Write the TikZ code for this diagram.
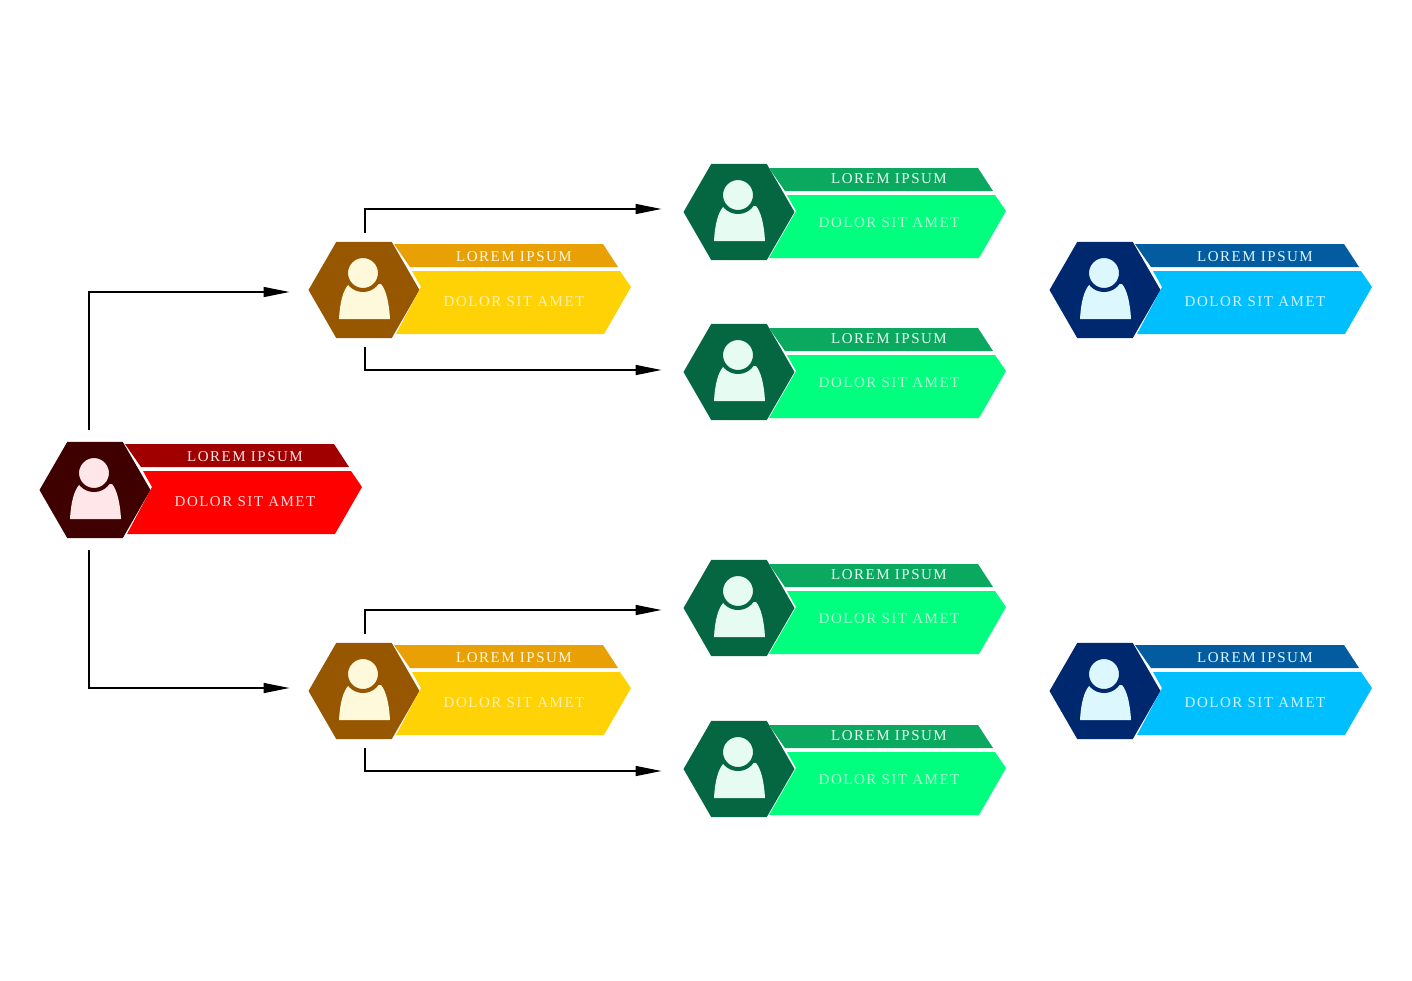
\documentclass[tikz,border=0pt]{standalone}
\usepackage{fontspec}
\setmainfont{Liberation Serif}
\newfontfamily\boxfont[LetterSpace=10]{Liberation Serif}
\usetikzlibrary{arrows.meta,shapes.geometric}
\tikzset{
  hexa/.style={regular polygon,regular polygon sides=6,shape border rotate=0,
    minimum size=111pt,inner sep=0pt,outer sep=0pt},
  head/.style={circle,minimum size=34pt,inner sep=0pt,line width=4pt},
  toptext/.style={font=\boxfont\fontsize{15}{18}\selectfont,inner sep=0pt},
  link/.style={line width=1.5pt,-{Triangle[length=26pt,width=10pt]}}
}
% name, x, y, hexagon, upper band, lower band, pale, lower text, band offset
\newcommand{\staffbox}[9]{
  \begin{scope}[shift={(#2,#3)}]
    \node[hexa,fill=#4] (hex#1) at (0,0) {};
    \fill[#7] (1,29) -- (-25,29) .. controls (-24,12) and (-21,0) .. (-15,-6)
      -- (17,-6) .. controls (22,0) and (25,12) .. (26,29) -- cycle;
    \node[head,fill=#7,draw=#4] (head#1) at (-1,-17) {};
    \fill[#5] (30,-46+#9) -- (239,-46+#9) -- (254,-23+#9) -- (46,-23+#9) -- cycle;
    \fill[#6] (48,-19+#9) -- (256,-19+#9) -- (267,-3+#9) -- (240,44+#9)
      -- (32-#9,44+#9) -- (57,-3+#9) -- cycle;
    \node[toptext,text=#7] (top#1) at (150,-33) {LOREM IPSUM};
    \node[toptext,text=#8] (low#1) at (150,12-#9/2) {DOLOR SIT AMET};
  \end{scope}
}
\definecolor{redhex}{HTML}{3F0000}
\definecolor{redtop}{HTML}{A00000}
\definecolor{redlow}{HTML}{FF0000}
\definecolor{redpale}{HTML}{FFE6E8}
\definecolor{redtext}{HTML}{FFDCDC}
\definecolor{amberhex}{HTML}{975700}
\definecolor{ambertop}{HTML}{E8A005}
\definecolor{amberlow}{HTML}{FFD205}
\definecolor{amberpale}{HTML}{FFF9DC}
\definecolor{ambertext}{HTML}{FFF0B0}
\definecolor{greenhex}{HTML}{056642}
\definecolor{greentop}{HTML}{0BA860}
\definecolor{greenlow}{HTML}{00FF7F}
\definecolor{greenpale}{HTML}{E6FBF2}
\definecolor{greentext}{HTML}{B4F8D4}
\definecolor{bluehex}{HTML}{00286E}
\definecolor{bluetop}{HTML}{045CA0}
\definecolor{bluelow}{HTML}{00BFFF}
\definecolor{bluepale}{HTML}{DDF7FF}
\definecolor{bluetext}{HTML}{D0F2FF}
\begin{document}
\begin{tikzpicture}[x=1pt,y=-1pt]
  \useasboundingbox (0,0) rectangle (1412,980);
  \staffbox{root}{95}{490}{redhex}{redtop}{redlow}{redpale}{redtext}{0}
  \staffbox{ambera}{364}{290}{amberhex}{ambertop}{amberlow}{amberpale}{ambertext}{0}
  \staffbox{amberb}{364}{691}{amberhex}{ambertop}{amberlow}{amberpale}{ambertext}{0}
  \staffbox{greena}{739}{212}{greenhex}{greentop}{greenlow}{greenpale}{greentext}{2}
  \staffbox{greenb}{739}{372}{greenhex}{greentop}{greenlow}{greenpale}{greentext}{2}
  \staffbox{greenc}{739}{608}{greenhex}{greentop}{greenlow}{greenpale}{greentext}{2}
  \staffbox{greend}{739}{769}{greenhex}{greentop}{greenlow}{greenpale}{greentext}{2}
  \staffbox{bluea}{1105}{290}{bluehex}{bluetop}{bluelow}{bluepale}{bluetext}{0}
  \staffbox{blueb}{1105}{691}{bluehex}{bluetop}{bluelow}{bluepale}{bluetext}{0}
  \begin{scope}[link]
    \draw ([shift={(-6,-12)}]hexroot.north) |- ([shift={(-19,2)}]hexambera.west);
    \draw ([shift={(-6,12)}]hexroot.south) |- ([shift={(-19,-3)}]hexamberb.west);
    \draw ([shift={(1,-9)}]hexambera.north) |- ([shift={(-22,-3)}]hexgreena.west);
    \draw ([shift={(1,9)}]hexambera.south) |- ([shift={(-22,-2)}]hexgreenb.west);
    \draw ([shift={(1,-9)}]hexamberb.north) |- ([shift={(-22,2)}]hexgreenc.west);
    \draw ([shift={(1,9)}]hexamberb.south) |- ([shift={(-22,2)}]hexgreend.west);
  \end{scope}
\end{tikzpicture}
\end{document}
